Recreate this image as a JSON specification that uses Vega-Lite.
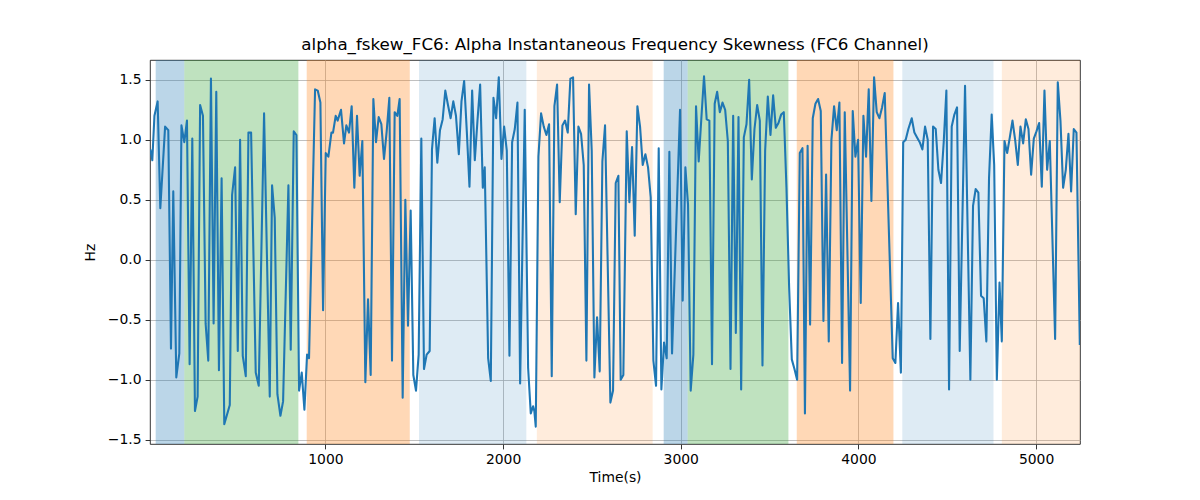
{
  "$schema": "https://vega.github.io/schema/vega-lite/v6.json",
  "autosize": {"type": "none"},
  "padding": {"left": 150, "top": 60, "right": 120, "bottom": 56},
  "width": 930,
  "height": 384,
  "title": {
    "text": "alpha_fskew_FC6: Alpha Instantaneous Frequency Skewness (FC6 Channel)",
    "font": "DejaVu Sans", "fontSize": 16.7, "fontWeight": "normal", "color": "black",
    "anchor": "middle", "offset": 6
  },
  "config": {
    "font": "DejaVu Sans",
    "view": {"stroke": "black", "strokeWidth": 0.8},
    "axis": {
      "domain": false,
      "grid": true, "gridColor": "#b0b0b0", "gridWidth": 0.8,
      "tickColor": "black", "tickWidth": 0.8, "tickSize": 4.9,
      "labelFont": "DejaVu Sans", "labelFontSize": 13.9, "labelColor": "black", "labelPadding": 4,
      "titleFont": "DejaVu Sans", "titleFontSize": 13.9, "titleFontWeight": "normal", "titleColor": "black"
    }
  },
  "datasets": {
    "bands": [
      {"start": 45, "end": 206, "cond": "c1"},
      {"start": 206, "end": 848, "cond": "c2"},
      {"start": 895, "end": 1475, "cond": "c3"},
      {"start": 1527, "end": 2131, "cond": "c4"},
      {"start": 2190, "end": 2842, "cond": "c5"},
      {"start": 2904, "end": 3039, "cond": "c1"},
      {"start": 3039, "end": 3606, "cond": "c2"},
      {"start": 3653, "end": 4197, "cond": "c3"},
      {"start": 4247, "end": 4760, "cond": "c4"},
      {"start": 4807, "end": 5247, "cond": "c5"}
    ],
    "series": [
      {"t": 15, "v": 0.92}, {"t": 26, "v": 0.83}, {"t": 38, "v": 1.2}, {"t": 56, "v": 1.32}, {"t": 71, "v": 0.43},
      {"t": 98, "v": 1.11}, {"t": 116, "v": 1.08}, {"t": 131, "v": -0.74}, {"t": 144, "v": 0.57}, {"t": 161, "v": -0.98},
      {"t": 178, "v": -0.78}, {"t": 190, "v": 1.12}, {"t": 206, "v": 0.98}, {"t": 221, "v": 1.16}, {"t": 236, "v": -0.87},
      {"t": 251, "v": 1.01}, {"t": 266, "v": -1.26}, {"t": 281, "v": -1.14}, {"t": 295, "v": 1.29}, {"t": 311, "v": 1.2},
      {"t": 326, "v": -0.53}, {"t": 341, "v": -0.84}, {"t": 356, "v": 1.51}, {"t": 371, "v": -0.53}, {"t": 386, "v": 1.4},
      {"t": 401, "v": -0.92}, {"t": 416, "v": 0.68}, {"t": 431, "v": -1.37}, {"t": 462, "v": -1.21}, {"t": 475, "v": 0.54},
      {"t": 492, "v": 0.77}, {"t": 507, "v": -0.76}, {"t": 520, "v": 1.0}, {"t": 535, "v": -0.8}, {"t": 552, "v": -0.97},
      {"t": 567, "v": 1.06}, {"t": 582, "v": 1.06}, {"t": 608, "v": -0.94}, {"t": 625, "v": -1.05}, {"t": 655, "v": 1.22},
      {"t": 687, "v": -1.14}, {"t": 700, "v": 0.62}, {"t": 715, "v": 0.35}, {"t": 730, "v": -1.12}, {"t": 747, "v": -1.3},
      {"t": 762, "v": -1.18}, {"t": 792, "v": 0.62}, {"t": 805, "v": -0.75}, {"t": 822, "v": 1.07}, {"t": 837, "v": 1.04},
      {"t": 852, "v": -1.09}, {"t": 867, "v": -0.94}, {"t": 882, "v": -1.25}, {"t": 897, "v": -0.79}, {"t": 908, "v": -0.82},
      {"t": 942, "v": 1.42}, {"t": 957, "v": 1.41}, {"t": 972, "v": 1.31}, {"t": 987, "v": -0.42}, {"t": 1002, "v": 0.89},
      {"t": 1017, "v": 0.86}, {"t": 1034, "v": 1.06}, {"t": 1043, "v": 1.06}, {"t": 1058, "v": 1.2}, {"t": 1069, "v": 1.16},
      {"t": 1088, "v": 1.25}, {"t": 1105, "v": 0.97}, {"t": 1118, "v": 1.12}, {"t": 1133, "v": 1.06}, {"t": 1148, "v": 1.28},
      {"t": 1163, "v": 0.6}, {"t": 1178, "v": 1.2}, {"t": 1193, "v": 0.7}, {"t": 1208, "v": 0.99}, {"t": 1225, "v": -1.02},
      {"t": 1240, "v": -0.33}, {"t": 1255, "v": -0.96}, {"t": 1270, "v": 1.34}, {"t": 1285, "v": 0.98}, {"t": 1300, "v": 1.19},
      {"t": 1315, "v": 1.13}, {"t": 1330, "v": 0.84}, {"t": 1345, "v": 1.07}, {"t": 1360, "v": 1.35}, {"t": 1375, "v": -0.84},
      {"t": 1390, "v": 1.23}, {"t": 1405, "v": 1.2}, {"t": 1418, "v": 1.34}, {"t": 1435, "v": -1.15}, {"t": 1450, "v": 0.5},
      {"t": 1465, "v": -0.55}, {"t": 1480, "v": 0.41}, {"t": 1495, "v": -0.96}, {"t": 1510, "v": -1.09}, {"t": 1525, "v": -0.79},
      {"t": 1540, "v": 1.01}, {"t": 1555, "v": -0.91}, {"t": 1570, "v": -0.79}, {"t": 1587, "v": -0.76}, {"t": 1600, "v": 0.92},
      {"t": 1615, "v": 1.18}, {"t": 1630, "v": 0.81}, {"t": 1645, "v": 1.08}, {"t": 1660, "v": 1.17}, {"t": 1675, "v": 1.41},
      {"t": 1690, "v": 1.29}, {"t": 1705, "v": 1.18}, {"t": 1720, "v": 1.32}, {"t": 1735, "v": 1.2}, {"t": 1751, "v": 0.88},
      {"t": 1766, "v": 1.32}, {"t": 1781, "v": 1.49}, {"t": 1796, "v": 1.07}, {"t": 1811, "v": 0.61}, {"t": 1826, "v": 1.41},
      {"t": 1841, "v": 0.83}, {"t": 1856, "v": 1.16}, {"t": 1871, "v": 1.46}, {"t": 1886, "v": 0.6}, {"t": 1897, "v": 0.77},
      {"t": 1916, "v": -0.82}, {"t": 1931, "v": -1.01}, {"t": 1946, "v": 1.35}, {"t": 1961, "v": 1.18}, {"t": 1976, "v": 1.52},
      {"t": 1991, "v": 0.84}, {"t": 2006, "v": 1.11}, {"t": 2021, "v": 0.91}, {"t": 2036, "v": -0.8}, {"t": 2051, "v": 0.98},
      {"t": 2066, "v": 1.09}, {"t": 2081, "v": 1.31}, {"t": 2096, "v": -1.03}, {"t": 2122, "v": 1.25}, {"t": 2141, "v": -0.9},
      {"t": 2156, "v": -1.28}, {"t": 2169, "v": -1.22}, {"t": 2176, "v": -1.26}, {"t": 2184, "v": -1.39}, {"t": 2199, "v": 0.86},
      {"t": 2214, "v": 1.22}, {"t": 2229, "v": 1.11}, {"t": 2244, "v": 1.04}, {"t": 2259, "v": 1.13}, {"t": 2274, "v": -0.97},
      {"t": 2289, "v": 1.28}, {"t": 2304, "v": 1.46}, {"t": 2319, "v": 0.48}, {"t": 2334, "v": 1.12}, {"t": 2349, "v": 1.16},
      {"t": 2364, "v": 1.06}, {"t": 2379, "v": 1.51}, {"t": 2394, "v": 1.52}, {"t": 2409, "v": 0.38}, {"t": 2424, "v": 1.11},
      {"t": 2439, "v": 1.05}, {"t": 2454, "v": 0.79}, {"t": 2469, "v": -0.84}, {"t": 2484, "v": 1.46}, {"t": 2499, "v": 0.91},
      {"t": 2514, "v": -0.98}, {"t": 2529, "v": -0.48}, {"t": 2544, "v": -0.93}, {"t": 2559, "v": 0.82}, {"t": 2574, "v": 1.12},
      {"t": 2604, "v": -1.19}, {"t": 2619, "v": -1.09}, {"t": 2634, "v": 0.64}, {"t": 2649, "v": 0.7}, {"t": 2662, "v": -1.0},
      {"t": 2677, "v": -0.96}, {"t": 2696, "v": 1.07}, {"t": 2711, "v": 0.48}, {"t": 2726, "v": 0.94}, {"t": 2741, "v": 0.2},
      {"t": 2756, "v": 1.28}, {"t": 2771, "v": 1.11}, {"t": 2786, "v": 0.79}, {"t": 2801, "v": 0.88}, {"t": 2816, "v": 0.77},
      {"t": 2831, "v": 0.52}, {"t": 2846, "v": -0.84}, {"t": 2861, "v": -1.05}, {"t": 2876, "v": 0.93}, {"t": 2891, "v": -1.08},
      {"t": 2906, "v": -0.69}, {"t": 2921, "v": -0.82}, {"t": 2936, "v": 0.9}, {"t": 2951, "v": -0.78}, {"t": 2996, "v": 1.25},
      {"t": 3011, "v": -0.34}, {"t": 3026, "v": 0.77}, {"t": 3041, "v": 0.46}, {"t": 3056, "v": -1.09}, {"t": 3071, "v": -0.79},
      {"t": 3086, "v": 1.28}, {"t": 3101, "v": 0.82}, {"t": 3116, "v": 1.18}, {"t": 3131, "v": 1.53}, {"t": 3146, "v": 1.17},
      {"t": 3161, "v": 1.16}, {"t": 3176, "v": -0.87}, {"t": 3191, "v": 1.3}, {"t": 3205, "v": 1.4}, {"t": 3220, "v": 1.23},
      {"t": 3235, "v": 1.31}, {"t": 3250, "v": 1.25}, {"t": 3265, "v": 0.99}, {"t": 3280, "v": -0.91}, {"t": 3295, "v": 1.2},
      {"t": 3310, "v": -0.61}, {"t": 3325, "v": 1.19}, {"t": 3340, "v": -1.08}, {"t": 3355, "v": 1.02}, {"t": 3370, "v": 1.13},
      {"t": 3385, "v": 1.5}, {"t": 3400, "v": 0.67}, {"t": 3415, "v": 1.09}, {"t": 3430, "v": 1.29}, {"t": 3445, "v": 1.16},
      {"t": 3460, "v": -0.88}, {"t": 3475, "v": 0.91}, {"t": 3490, "v": 1.36}, {"t": 3505, "v": 1.04}, {"t": 3520, "v": 1.37},
      {"t": 3535, "v": 1.1}, {"t": 3550, "v": 1.14}, {"t": 3565, "v": 1.21}, {"t": 3580, "v": 1.23}, {"t": 3595, "v": 0.6},
      {"t": 3610, "v": -0.23}, {"t": 3625, "v": -0.83}, {"t": 3640, "v": -0.91}, {"t": 3655, "v": -1.0}, {"t": 3670, "v": 0.89},
      {"t": 3685, "v": 0.93}, {"t": 3699, "v": -1.28}, {"t": 3714, "v": 0.95}, {"t": 3728, "v": -0.54}, {"t": 3743, "v": 1.18},
      {"t": 3758, "v": 1.3}, {"t": 3773, "v": 1.34}, {"t": 3788, "v": 1.24}, {"t": 3803, "v": -0.51}, {"t": 3818, "v": 0.71},
      {"t": 3833, "v": -0.68}, {"t": 3848, "v": 1.0}, {"t": 3863, "v": 1.28}, {"t": 3878, "v": 1.08}, {"t": 3893, "v": 1.31},
      {"t": 3908, "v": -0.86}, {"t": 3923, "v": 1.23}, {"t": 3953, "v": -1.09}, {"t": 3968, "v": 1.24}, {"t": 3983, "v": 0.86},
      {"t": 3998, "v": 1.0}, {"t": 4013, "v": -0.36}, {"t": 4028, "v": 1.2}, {"t": 4043, "v": 0.86}, {"t": 4058, "v": 1.42},
      {"t": 4073, "v": 0.49}, {"t": 4088, "v": 1.52}, {"t": 4103, "v": 1.23}, {"t": 4118, "v": 1.18}, {"t": 4133, "v": 1.27},
      {"t": 4148, "v": 1.39}, {"t": 4193, "v": -0.82}, {"t": 4208, "v": -0.86}, {"t": 4223, "v": -0.36}, {"t": 4239, "v": -0.94},
      {"t": 4252, "v": 0.98}, {"t": 4266, "v": 1.0}, {"t": 4281, "v": 1.09}, {"t": 4300, "v": 1.18}, {"t": 4315, "v": 1.06},
      {"t": 4330, "v": 1.02}, {"t": 4345, "v": 0.98}, {"t": 4360, "v": 0.92}, {"t": 4375, "v": 1.11}, {"t": 4390, "v": 1.0},
      {"t": 4405, "v": -0.66}, {"t": 4420, "v": 1.11}, {"t": 4435, "v": 1.09}, {"t": 4450, "v": 0.75}, {"t": 4465, "v": 0.64},
      {"t": 4480, "v": 0.98}, {"t": 4495, "v": 1.41}, {"t": 4510, "v": -1.08}, {"t": 4525, "v": 1.11}, {"t": 4540, "v": 1.21},
      {"t": 4555, "v": 1.27}, {"t": 4570, "v": -0.76}, {"t": 4600, "v": 1.45}, {"t": 4630, "v": -1.0}, {"t": 4645, "v": 0.45},
      {"t": 4660, "v": 0.59}, {"t": 4675, "v": 0.56}, {"t": 4690, "v": -0.3}, {"t": 4705, "v": -0.32}, {"t": 4720, "v": -0.68},
      {"t": 4735, "v": 0.68}, {"t": 4750, "v": 1.21}, {"t": 4764, "v": 0.79}, {"t": 4779, "v": -1.0}, {"t": 4794, "v": -0.19},
      {"t": 4807, "v": -0.68}, {"t": 4822, "v": 0.99}, {"t": 4837, "v": 0.89}, {"t": 4852, "v": 1.02}, {"t": 4867, "v": 1.16},
      {"t": 4882, "v": 1.0}, {"t": 4897, "v": 0.79}, {"t": 4912, "v": 1.11}, {"t": 4927, "v": 0.97}, {"t": 4942, "v": 1.17},
      {"t": 4957, "v": 1.09}, {"t": 4972, "v": 0.71}, {"t": 4987, "v": 1.01}, {"t": 5002, "v": 1.07}, {"t": 5017, "v": 1.14},
      {"t": 5032, "v": 0.61}, {"t": 5047, "v": 1.41}, {"t": 5062, "v": 0.75}, {"t": 5077, "v": 0.99}, {"t": 5107, "v": -0.66},
      {"t": 5122, "v": 1.48}, {"t": 5137, "v": 1.16}, {"t": 5152, "v": 0.6}, {"t": 5167, "v": 0.75}, {"t": 5182, "v": 1.05},
      {"t": 5197, "v": 0.57}, {"t": 5212, "v": 1.09}, {"t": 5227, "v": 1.06}, {"t": 5246, "v": -0.71}
    ]
  },
  "layer": [
    {
      "data": {"name": "bands"},
      "transform": [{"filter": "datum.cond == 'c1' || datum.cond == 'c2' || datum.cond == 'c3'"}],
      "mark": {"type": "rect", "clip": true, "opacity": 0.3},
      "encoding": {
        "x": {"field": "start", "type": "quantitative",
              "scale": {"domain": [13, 5247], "nice": false, "zero": false},
              "axis": {"title": "Time(s)", "values": [1000, 2000, 3000, 4000, 5000], "format": "d", "titlePadding": 4}},
        "x2": {"field": "end"},
        "color": {"field": "cond", "type": "nominal", "legend": null,
                  "scale": {"domain": ["c1", "c2", "c3", "c4", "c5"],
                            "range": ["#1f77b4", "#2ca02c", "#ff7f0e", "#1f77b4", "#ff7f0e"]}}
      }
    },
    {
      "data": {"name": "bands"},
      "transform": [{"filter": "datum.cond == 'c4' || datum.cond == 'c5'"}],
      "mark": {"type": "rect", "clip": true, "opacity": 0.145},
      "encoding": {
        "x": {"field": "start", "type": "quantitative"},
        "x2": {"field": "end"},
        "color": {"field": "cond", "type": "nominal", "legend": null}
      }
    },
    {
      "data": {"name": "series"},
      "mark": {"type": "line", "color": "#1f77b4", "strokeWidth": 2.08, "strokeJoin": "round", "clip": true},
      "encoding": {
        "x": {"field": "t", "type": "quantitative"},
        "y": {"field": "v", "type": "quantitative",
              "scale": {"domain": [-1.535, 1.665], "nice": false, "zero": false},
              "axis": {"title": "Hz", "values": [-1.5, -1.0, -0.5, 0.0, 0.5, 1.0, 1.5], "format": ".1f", "titlePadding": 10}}
      }
    }
  ]
}
